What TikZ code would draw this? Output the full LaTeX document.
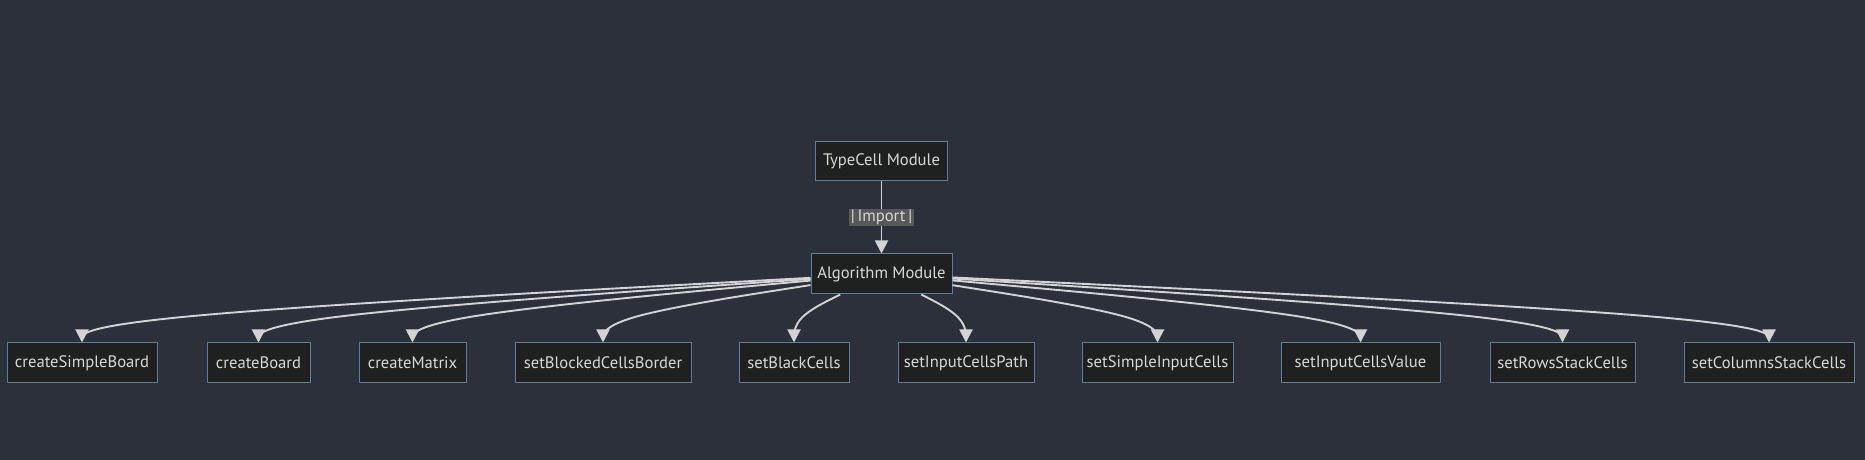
\documentclass[tikz,border=0pt]{standalone}
\usepackage{fontspec}
\setmainfont{PT Sans}
\usetikzlibrary{arrows.meta,calc}
\definecolor{bgc}{HTML}{2B303B}
\definecolor{nodefill}{HTML}{1F2020}
\definecolor{nodeborder}{HTML}{5E7E9C}
\definecolor{txt}{HTML}{D8D8D8}
\definecolor{edgec}{HTML}{D3D3D3}
\definecolor{lblbg}{HTML}{585858}
\begin{document}
\begin{tikzpicture}[x=1pt,y=1pt,
  box/.style={draw=nodeborder, fill=nodefill, line width=1pt, text=txt,
    font=\fontsize{16.6}{19}\selectfont, minimum height=40pt, inner sep=0pt},
  link/.style={draw=edgec, line width=1.9pt, -{Triangle[length=13pt,width=13pt]}},
  lbl/.style={fill=lblbg, text=txt, font=\fontsize{16.6}{19}\selectfont, inner xsep=2pt, inner ysep=1.5pt}]
\fill[bgc] (0,0) rectangle (1865,460);
\useasboundingbox (0,0) rectangle (1865,460);
% top nodes
\node[box, minimum width=132pt, minimum height=39pt] (tc) at (881.5,298.5) {TypeCell Module};
\node[box, minimum width=141pt] (alg) at (881.5,186) {Algorithm Module};
% bottom row
\foreach \n/\x/\w/\t in {
  csb/82/150/createSimpleBoard,
  cb/258.5/103/createBoard,
  cm/412.5/107/createMatrix,
  sbcb/603/176/setBlockedCellsBorder,
  sbc/794/110/setBlackCells,
  sicp/966/136/setInputCellsPath,
  ssic/1157.5/151/setSimpleInputCells,
  sicv/1360.5/159/setInputCellsValue,
  srsc/1562.5/145/setRowsStackCells,
  scsc/1769/170/setColumnsStackCells}
  {\node[box, minimum width=\w pt] (\n) at (\x,97) {\t};}
% import edge
\draw[link] (tc) -- (alg) node[midway, lbl] {|\,Import\,|};
% fan-out edges (basis spline through boundary point, mid point, target top)
\foreach \n in {csb,cb,cm,sbcb,sbc,sicp,ssic,sicv,srsc,scsc}{
  \coordinate (p1) at ($(\n.north)+(0,25)$);
  \path (alg) -- (p1) coordinate[pos=0] (s);
  \coordinate (m) at ($(s)!.5!(\n.north)$);
  \draw[link] (s) -- ($(s)!1/6!(p1)$)
    .. controls ($(s)!1/3!(p1)$) and ($(s)!2/3!(p1)$) .. ($(m)!2/3!(p1)$)
    .. controls ($(p1)!1/3!(\n.north)$) and ($(p1)!2/3!(\n.north)$) .. ($(p1)!5/6!(\n.north)$)
    -- (\n.north);
}
\end{tikzpicture}
\end{document}
